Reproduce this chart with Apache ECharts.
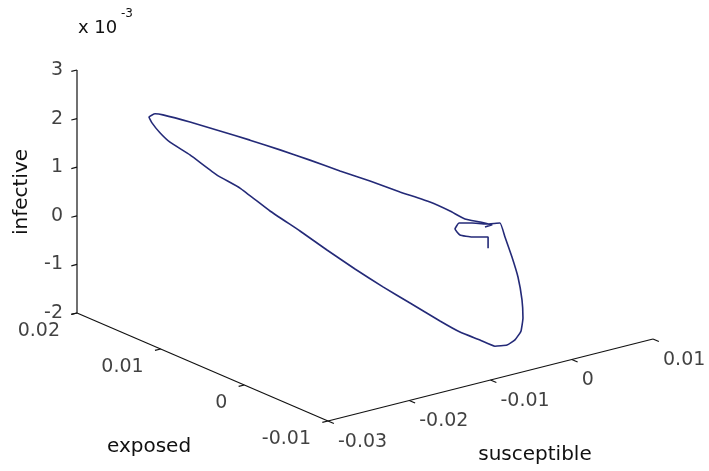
<!DOCTYPE html>
<html>
<head>
<meta charset="utf-8">
<script src="https://cdn.jsdelivr.net/npm/echarts@6/dist/echarts.min.js"></script>
<style>html,body{margin:0;padding:0;background:#fff}#c{width:709px;height:471px}</style>
</head>
<body>
<div id="c"></div>
<script>
// ---- data (trajectory) ----
const susceptible = [0, 0, -0.00198, -0.00346, -0.00407, -0.00358, -0.00198, -0.00026, 0.00095, 0.00105, 0.00088, 0.00059, -0.00046, -0.00137, -0.00234, -0.00359, -0.00488, -0.00636, -0.008, -0.00995, -0.01179, -0.01445, -0.01654, -0.01844, -0.01983, -0.02109, -0.02272, -0.02436, -0.02564, -0.02691, -0.02731, -0.027, -0.02592, -0.02526, -0.02431, -0.02354, -0.02124, -0.01879, -0.01643, -0.01428, -0.01214, -0.00999, -0.00784, -0.00569, -0.00355, -0.00232, -0.00161, -0.00058, 0.00027, -0.00038, 0];
const exposed = [0, 0, 0, 0, 0, 0, 0, 0, -0.0005, -0.001, -0.002, -0.003, -0.0045, -0.0055, -0.0062, -0.0067, -0.007, -0.007, -0.0068, -0.0063, -0.0057, -0.0047, -0.0035, -0.002, 0, 0.002, 0.004, 0.006, 0.0075, 0.0095, 0.0115, 0.013, 0.015, 0.016, 0.0162, 0.016, 0.015, 0.0138, 0.0125, 0.011, 0.0095, 0.008, 0.0065, 0.005, 0.0035, 0.0023, 0.0012, 0.0004, -0.0002, 0, 0];
const infective = [-0.00045, -0.00022, -0.000137, -0.000033, 0.000116, 0.000219, 0.000151, 0.000058, 0.000065, -0.00019, -0.00052, -0.000846, -0.00116, -0.00142, -0.0016, -0.00169, -0.00172, -0.00168, -0.0015, -0.00129, -0.00103, -0.00062, -0.00029, 0.000047, 0.000349, 0.000645, 0.000977, 0.00137, 0.00158, 0.0019, 0.00203, 0.0021, 0.00211, 0.00213, 0.00214, 0.0021, 0.00193, 0.00173, 0.00154, 0.00136, 0.00117, 0.000967, 0.000781, 0.000575, 0.00039, 0.000242, 0.000129, 0.000083, 0.00003, 0.000002, 0.000006];

// ---- axes ----
const sTicks = [-0.03, -0.02, -0.01, 0, 0.01];
const sTickLabels = ['-0.03', '-0.02', '-0.01', '0', '0.01'];
const eTicks = [-0.01, 0, 0.01, 0.02];
const eTickLabels = ['-0.01', '0', '0.01', '0.02'];
const iTicks = [-0.002, -0.001, 0, 0.001, 0.002, 0.003];
const iTickLabels = ['-2', '-1', '0', '1', '2', '3'];

// ---- 3D view layout (oblique projection onto a hidden 2D plane) ----
const VIEW = { origin: [328, 421], sEnd: [653, 339], eEnd: [77, 313], zLen: 243 };
const sMin = sTicks[0], sMax = sTicks[sTicks.length - 1];
const eMin = eTicks[0], eMax = eTicks[eTicks.length - 1];
const zMin = iTicks[0], zMax = iTicks[iTicks.length - 1];

function project(s, e, z) {
  const fs = (s - sMin) / (sMax - sMin);
  const fe = (e - eMin) / (eMax - eMin);
  const fz = (z - zMin) / (zMax - zMin);
  const O = VIEW.origin;
  return [
    O[0] + fs * (VIEW.sEnd[0] - O[0]) + fe * (VIEW.eEnd[0] - O[0]),
    O[1] + fs * (VIEW.sEnd[1] - O[1]) + fe * (VIEW.eEnd[1] - O[1]) - fz * VIEW.zLen
  ];
}

const curve = susceptible.map((s, k) => project(s, exposed[k], infective[k]));

// axis lines and ticks as segments
const segs = [];
function seg(a, b) { segs.push([a[0], a[1], b[0], b[1]]); }
const dS = 0.0007, dE = 0.0007;
seg(project(sMin, eMin, zMin), project(sMax, eMin, zMin));
sTicks.forEach(s => seg(project(s, eMin, zMin), project(s, eMin - dE, zMin)));
seg(project(sMin, eMin, zMin), project(sMin, eMax, zMin));
eTicks.forEach(e => seg(project(sMin, e, zMin), project(sMin - dS, e, zMin)));
seg(project(sMin, eMax, zMin), project(sMin, eMax, zMax));
iTicks.forEach(z => seg(project(sMin, eMax, z), project(sMin - dS, eMax, z)));

const FONT = 'DejaVu Sans';
const TXT = '#111';
const sLabelPts = sTicks.map((s, k) => ({ value: project(s, eMin, zMin), name: sTickLabels[k] }));
const eLabelPts = eTicks.map((e, k) => ({ value: project(sMin, e, zMin), name: eTickLabels[k] }));
const iLabelPts = iTicks.map((z, k) => ({ value: project(sMin, eMax, z), name: iTickLabels[k] }));

function labelSeries(data, pos, align) {
  return {
    type: 'scatter', data: data, symbolSize: 0, silent: true,
    label: { show: true, formatter: p => p.name, position: pos, align: align, verticalAlign: 'middle',
      fontFamily: FONT, fontSize: 19, color: TXT }
  };
}
function txt(text, x, y, size, align, rot) {
  return { type: 'text', x: x, y: y, rotation: rot || 0,
    style: { text: text, font: size + 'px ' + FONT, fill: TXT, align: align, verticalAlign: 'middle', textAlign: align, textVerticalAlign: 'middle' } };
}

const chart = echarts.init(document.getElementById('c'), null, { renderer: 'canvas' });
chart.setOption({
  animation: false,
  backgroundColor: '#ffffff',
  grid: { left: 0, right: 0, top: 0, bottom: 0 },
  xAxis: { type: 'value', min: 0, max: 709, show: false },
  yAxis: { type: 'value', min: 0, max: 471, inverse: true, show: false },
  graphic: [
    txt('infective', 22, 192, 20, 'center', Math.PI / 2),
    txt('exposed', 149, 447, 20, 'center'),
    txt('susceptible', 535, 455, 20, 'center'),
    txt('x 10', 78, 28, 18, 'left'),
    txt('-3', 121, 14, 12, 'left')
  ],
  series: [
    {
      type: 'custom', silent: true, data: segs,
      renderItem: function (params, api) {
        const a = api.coord([api.value(0), api.value(1)]);
        const b = api.coord([api.value(2), api.value(3)]);
        return { type: 'line', shape: { x1: a[0], y1: a[1], x2: b[0], y2: b[1] }, style: { stroke: '#111', lineWidth: 1.2 } };
      }
    },
    {
      type: 'line', data: curve, showSymbol: false, smooth: 0.12, silent: true,
      lineStyle: { color: '#242a78', width: 1.6 }
    },
    labelSeries(sLabelPts, [10, 21], 'left'),
    labelSeries(eLabelPts, [-17, 18], 'right'),
    labelSeries(iLabelPts, [-14, 0], 'right')
  ]
});
</script>
</body>
</html>
